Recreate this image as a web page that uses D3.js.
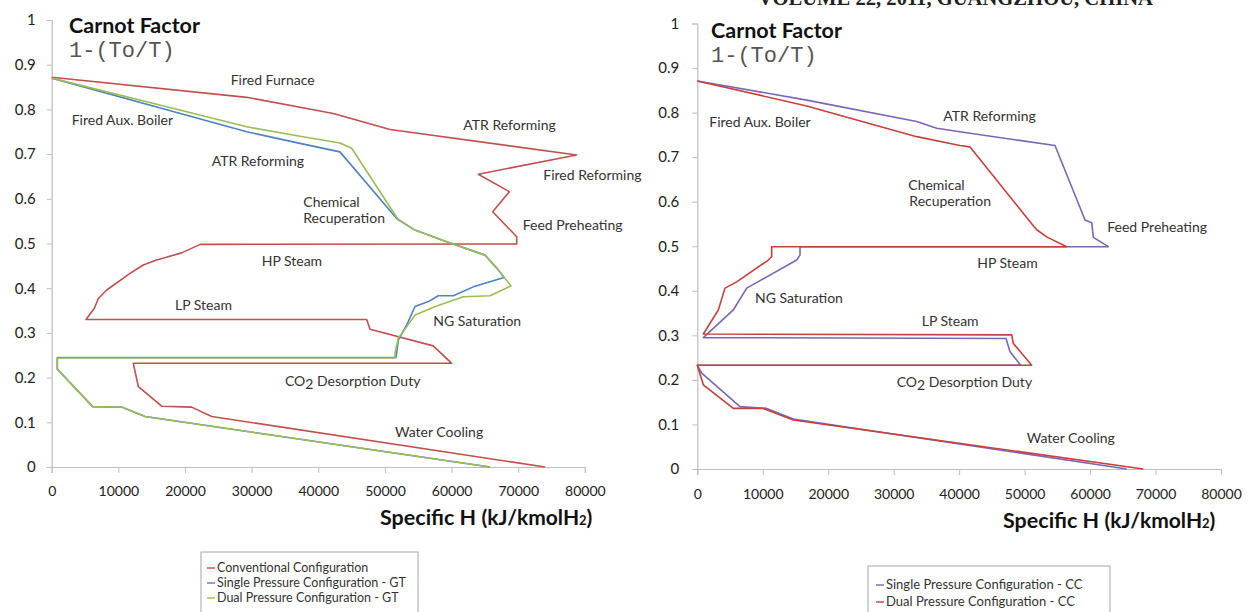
<!DOCTYPE html>
<html>
<head>
<meta charset="utf-8">
<script src="https://cdn.jsdelivr.net/npm/d3@7/dist/d3.min.js"></script>
<style>
  html, body { margin: 0; padding: 0; background: #fff; }
  svg { display: block; font-family: Lato, "Open Sans", sans-serif; }
  .mono { font-family: "Liberation Mono", "DejaVu Sans Mono", monospace; }
  .serif { font-family: "Liberation Serif", "DejaVu Serif", serif; }
</style>
</head>
<body>
<svg id="chart" width="1252" height="612"></svg>
<script>
// ---- Composite curves: [specific enthalpy (kJ/kmolH2), Carnot factor] ----
const conventionalConfig = [
  [0,0.872],[29260,0.827],[42250,0.791],[50760,0.755],[78760,0.698],[64000,0.655],
  [68660,0.616],[66170,0.571],[69770,0.515],[69770,0.499],[22280,0.498],[19500,0.479],
  [15750,0.463],[13740,0.452],[11750,0.433],[8250,0.396],[7000,0.377],[6400,0.355],
  [5150,0.330],[47260,0.330],[47760,0.308],[57250,0.271],[60010,0.232],[12240,0.232],
  [13000,0.180],[16500,0.136],[21000,0.134],[24000,0.113],[74000,0]
];
const singlePressureGT = [
  [0,0.870],[17260,0.799],[29260,0.750],[37250,0.724],[43250,0.705],[51760,0.556],
  [54500,0.530],[59260,0.504],[65010,0.474],[67010,0.441],[67860,0.424],[63260,0.403],
  [60260,0.383],[58010,0.383],[56510,0.370],[54510,0.359],[53270,0.318],[52010,0.284],
  [51660,0.245],[840,0.245],[840,0.219],[6150,0.135],[10500,0.134],[14000,0.113],[65760,0]
];
const dualPressureGT = [
  [0,0.870],[17260,0.806],[29260,0.761],[37250,0.740],[43250,0.725],[45010,0.713],
  [52000,0.553],[54500,0.530],[59260,0.504],[65010,0.474],[67010,0.441],[68910,0.405],
  [65760,0.383],[61760,0.381],[57760,0.360],[54510,0.340],[53270,0.314],[52000,0.288],
  [51500,0.254],[51500,0.244],[840,0.244],[840,0.219],[6150,0.135],[10500,0.134],
  [14000,0.113],[65760,0]
];
const singlePressureCC = [
  [0,0.871],[16710,0.828],[33510,0.780],[36570,0.765],[40130,0.757],[54640,0.726],
  [59230,0.559],[60250,0.553],[60500,0.520],[62790,0.499],[15690,0.499],[15690,0.480],
  [15180,0.469],[7550,0.406],[5500,0.357],[920,0.295],[47160,0.293],[47770,0.263],
  [49400,0.233],[0,0.233],[670,0.215],[6520,0.140],[10600,0.136],[14670,0.112],[65600,0]
];
const dualPressureCC = [
  [0,0.871],[16710,0.815],[33510,0.746],[40130,0.726],[41660,0.723],[50830,0.555],
  [51850,0.537],[53370,0.521],[56430,0.499],[11360,0.499],[11360,0.477],[10850,0.469],
  [6020,0.420],[4230,0.406],[3210,0.357],[920,0.303],[48030,0.301],[48270,0.282],
  [51080,0.233],[0,0.233],[920,0.189],[5500,0.136],[10080,0.136],[14670,0.110],[68130,0]
];

// ---- Axis ticks ----
const xTicks = [0,10000,20000,30000,40000,50000,60000,70000,80000];
const xTickLabels = ["0","10000","20000","30000","40000","50000","60000","70000","80000"];
const yTicks = [0,0.1,0.2,0.3,0.4,0.5,0.6,0.7,0.8,0.9,1];
const yTickLabels = ["0","0.1","0.2","0.3","0.4","0.5","0.6","0.7","0.8","0.9","1"];

// ---- Process annotations: [text, H, CF] ----
const labelsGT = [
  ["Fired Furnace",26860,0.855],["Fired Aux. Boiler",3000,0.764],["ATR Reforming",24000,0.674],
  ["ATR Reforming",61760,0.754],["Fired Reforming",73760,0.642],["Chemical",37750,0.581],
  ["Recuperation",37750,0.545],["Feed Preheating",70670,0.530],["HP Steam",31510,0.450],
  ["LP Steam",18500,0.351],["NG Saturation",57250,0.315],["CO2 Desorption Duty",35000,0.181],
  ["Water Cooling",51510,0.068]
];
const labelsCC = [
  ["Fired Aux. Boiler",1830,0.767],["ATR Reforming",37580,0.782],["Chemical",32230,0.626],
  ["Recuperation",32390,0.590],["Feed Preheating",62630,0.533],["HP Steam",42770,0.451],
  ["NG Saturation",8810,0.373],["LP Steam",34280,0.321],["CO2 Desorption Duty",30460,0.185],
  ["Water Cooling",50320,0.058]
];

// ---- Legends ----
const legendGT = ["Conventional Configuration","Single Pressure Configuration - GT","Dual Pressure Configuration - GT"];
const legendCC = ["Single Pressure Configuration  - CC","Dual Pressure Configuration  - CC"];

const svg = d3.select("#chart");

// running header, trimmed by the top edge of the page
svg.append("text")
  .attr("class", "serif")
  .attr("x", 758).attr("y", 5)
  .attr("font-weight", "bold")
  .attr("font-size", 20)
  .attr("fill", "#222")
  .attr("textLength", 395)
  .attr("lengthAdjust", "spacingAndGlyphs")
  .text("VOLUME 22, 2011, GUANGZHOU, CHINA");

function drawPanel(p) {
  const x = d3.scaleLinear().domain([0, 80000]).range([p.left, p.right]);
  const y = d3.scaleLinear().domain([0, 1]).range([p.bottom, p.top]);
  const g = svg.append("g");

  // axes
  const yAxis = d3.axisLeft(y).tickValues(yTicks)
    .tickFormat((d, i) => yTickLabels[i]).tickSize(5).tickPadding(p.yPad);
  const xAxis = d3.axisBottom(x).tickValues(xTicks)
    .tickFormat((d, i) => xTickLabels[i]).tickSize(6).tickPadding(p.xPad);

  const ya = g.append("g").attr("transform", `translate(${p.left},0)`).call(yAxis);
  const xa = g.append("g").attr("transform", `translate(0,${p.bottom})`).call(xAxis);
  [ya, xa].forEach(a => {
    a.attr("font-family", null);
    a.select(".domain").attr("stroke", "#bdbdbd").attr("stroke-width", 1.2);
    a.selectAll(".tick line").attr("stroke", "#bdbdbd");
    a.selectAll(".tick text").attr("fill", "#222").attr("font-size", 15);
  });
  xa.selectAll(".tick text").attr("font-size", 14);

  // curves
  const line = d3.line().x(d => x(d[0])).y(d => y(d[1]));
  p.series.forEach(s => {
    g.append("path").datum(s.data)
      .attr("d", line)
      .attr("fill", "none")
      .attr("stroke", s.color)
      .attr("stroke-width", 1.6)
      .attr("stroke-linejoin", "round");
  });

  // annotations
  p.labels.forEach(([t, hx, cf]) => {
    const txt = g.append("text")
      .attr("x", x(hx)).attr("y", y(cf))
      .attr("font-size", 14).attr("fill", "#333");
    if (t.startsWith("CO2")) {
      txt.append("tspan").text("CO");
      txt.append("tspan").attr("dy", 3).text("2");
      txt.append("tspan").attr("dy", -3).text(t.slice(3));
    } else {
      txt.text(t);
    }
  });

  // title block
  g.append("text").attr("x", p.titleX).attr("y", p.titleY)
    .attr("font-size", 21.5).attr("font-weight", "bold").attr("fill", "#111")
    .text("Carnot Factor");
  g.append("text").attr("class", "mono").attr("x", p.titleX).attr("y", p.titleY + 24)
    .attr("font-size", 22).attr("fill", "#555")
    .text("1-(To/T)");

  // x-axis title
  const xt = g.append("text").attr("x", p.xTitleX).attr("y", p.xTitleY)
    .attr("font-weight", "bold").attr("fill", "#111");
  xt.append("tspan").attr("font-size", 21.5).text("Specific H ");
  xt.append("tspan").attr("font-size", 21).text("(kJ/kmolH");
  xt.append("tspan").attr("font-size", 13).text("2");
  xt.append("tspan").attr("font-size", 21).text(")");

  // legend
  const lg = g.append("g");
  lg.append("rect").attr("x", p.legend.x).attr("y", p.legend.y)
    .attr("width", p.legend.w).attr("height", 80)
    .attr("fill", "#fff").attr("stroke", "#a6a6a6");
  p.legend.items.forEach((t, i) => {
    const cy = p.legend.y + p.legend.first + i * p.legend.step;
    lg.append("line").attr("x1", p.legend.x + p.legend.dx).attr("x2", p.legend.x + p.legend.dx + 8)
      .attr("y1", cy).attr("y2", cy)
      .attr("stroke", p.series[i].color).attr("stroke-width", 1.4);
    lg.append("text").attr("x", p.legend.x + p.legend.dx + 10).attr("y", cy + 4)
      .attr("font-size", p.legend.fs).attr("fill", "#333").text(t);
  });
}

drawPanel({
  left: 51.7, right: 584.9, top: 20, bottom: 467, yPad: 11, xPad: 13,
  series: [
    { data: conventionalConfig, color: "#c0504d" },
    { data: singlePressureGT, color: "#4f81bd" },
    { data: dualPressureGT, color: "#9bbb59" }
  ],
  labels: labelsGT,
  titleX: 69, titleY: 33,
  xTitleX: 380, xTitleY: 525,
  legend: { x: 201, y: 552, w: 217, first: 16, step: 15, dx: 6, fs: 12.5, items: legendGT }
});

drawPanel({
  left: 697.3, right: 1221, top: 23.5, bottom: 469, yPad: 13, xPad: 14,
  series: [
    { data: singlePressureCC, color: "#7b66b4" },
    { data: dualPressureCC, color: "#c8403e" }
  ],
  labels: labelsCC,
  titleX: 711, titleY: 38,
  xTitleX: 1003, xTitleY: 528,
  legend: { x: 868, y: 566, w: 242, first: 19, step: 17, dx: 8, fs: 13, items: legendCC }
});
</script>
</body>
</html>
